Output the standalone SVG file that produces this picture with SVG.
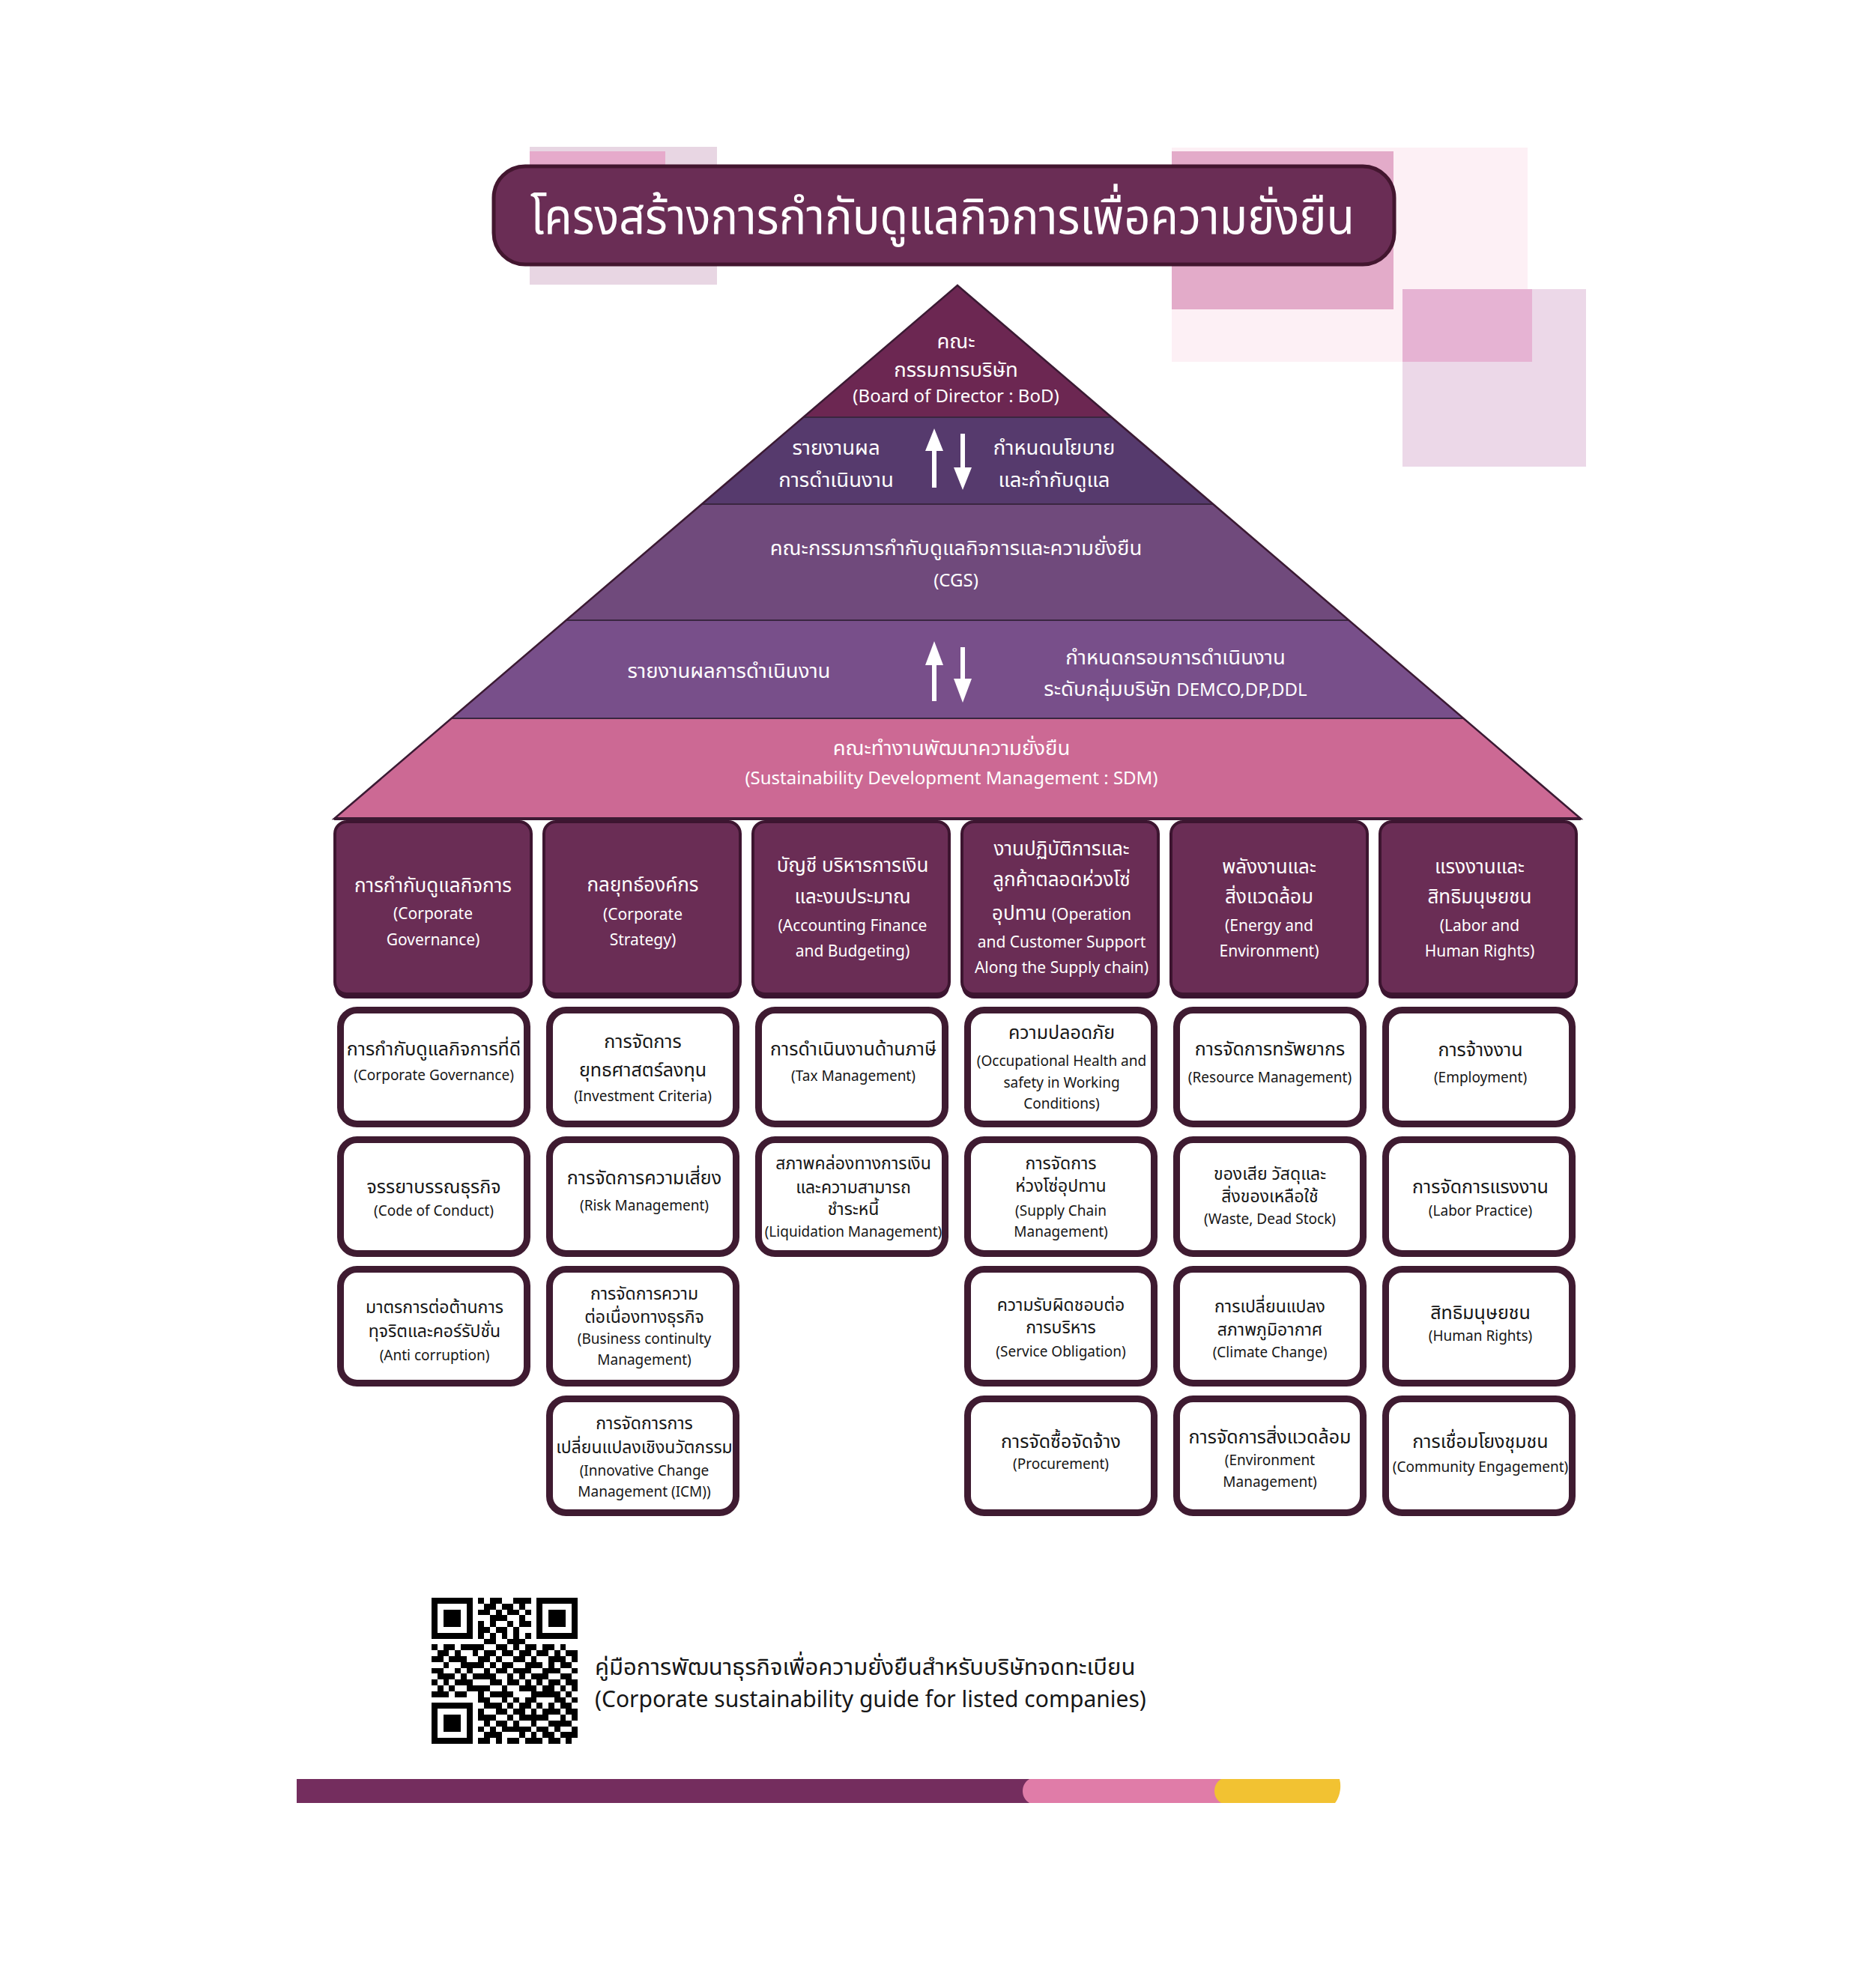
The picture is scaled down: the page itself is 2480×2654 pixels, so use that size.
<svg xmlns="http://www.w3.org/2000/svg" width="2480" height="2654" viewBox="0 0 2480 2654">
<style>
.t{font-family:"Noto Sans Thai","Noto Sans","Liberation Sans",sans-serif;text-anchor:middle}
.w{fill:#ffffff}
.k{fill:#161616}
.py{font-size:27.5px}
.pe{font-size:24px}
.hth{font-size:26px}
.hen{font-size:21px}
.sth{font-size:25px}
.stt{font-size:23px}
.sen{font-size:19px}
.hbox{fill:#6a2d55;stroke:#3d1530;stroke-width:4}
.hsh{fill:#3a1430}
.sbox{fill:#ffffff;stroke:#3f1b31;stroke-width:9}
.band{stroke:#3a2640;stroke-width:2}
.arr{fill:#ffffff}
.qr line{stroke:#000;stroke-width:1.02}
</style>
<rect width="2480" height="2654" fill="#ffffff"/>
<g id="background">
<rect x="707" y="196" width="250" height="184" fill="#e8d6e3"/>
<rect x="707" y="202" width="181" height="40" fill="#e6aacb"/>
<rect x="1564" y="197" width="475" height="286" fill="#fdf0f5"/>
<rect x="1564" y="202" width="296" height="211" fill="#e3abc9"/>
<rect x="1872" y="386" width="245" height="237" fill="#ecd8e8"/>
<rect x="1872" y="386" width="173" height="97" fill="#e6b3d3"/>
</g>
<g id="title">
<rect x="659" y="222" width="1202" height="131" rx="42" fill="#6a2d55" stroke="#43162f" stroke-width="5"/>
<text class="t w" x="1258" y="312" font-size="66" textLength="1100" lengthAdjust="spacingAndGlyphs">โครงสร้างการกำกับดูแลกิจการเพื่อความยั่งยืน</text>
</g>
<g id="pyramid">
<polygon points="1278,381 1483.7,557 1072.3,557" fill="#6c2752"/>
<polygon points="1072.3,557 1483.7,557 1619.2,673 936.8,673" fill="#563a6d"/>
<polygon points="936.8,673 1619.2,673 1800.3,828 755.7,828" fill="#704a7c"/>
<polygon points="755.7,828 1800.3,828 1953.4,959 602.6,959" fill="#784f8a"/>
<polygon points="602.6,959 1953.4,959 2110,1093 446,1093" fill="#cc6994"/>
<line class="band" x1="1072.3" y1="557" x2="1483.7" y2="557"/>
<line class="band" x1="936.8" y1="673" x2="1619.2" y2="673"/>
<line class="band" x1="755.7" y1="828" x2="1800.3" y2="828"/>
<line class="band" x1="602.6" y1="959" x2="1953.4" y2="959"/>
<polygon points="1278,381 2110,1093 446,1093" fill="none" stroke="#3b1a33" stroke-width="2.5"/>
<line x1="446" y1="1093" x2="2110" y2="1093" stroke="#3b1a33" stroke-width="4"/>
</g>
<g id="node-bod">
<text class="t w py" x="1276" y="465">คณะ</text>
<text class="t w py" x="1276" y="503">กรรมการบริษัท</text>
<text class="t w pe" x="1276" y="537">(Board of Director : BoD)</text>
</g>
<g id="label-bod-report">
<text class="t w py" x="1116" y="607">รายงานผล</text>
<text class="t w py" x="1116" y="650">การดำเนินงาน</text>
</g>
<g id="label-bod-policy">
<text class="t w py" x="1407" y="607">กำหนดนโยบาย</text>
<text class="t w py" x="1407" y="650">และกำกับดูแล</text>
</g>
<g id="node-cgs">
<text class="t w py" x="1276" y="741">คณะกรรมการกำกับดูแลกิจการและความยั่งยืน</text>
<text class="t w pe" x="1276" y="783">(CGS)</text>
</g>
<g id="label-cgs-report">
<text class="t w py" x="973" y="905">รายงานผลการดำเนินงาน</text>
</g>
<g id="label-cgs-frame">
<text class="t w py" x="1569" y="887">กำหนดกรอบการดำเนินงาน</text>
<text class="t w py" x="1569" y="929">ระดับกลุ่มบริษัท <tspan class="pe">DEMCO,DP,DDL</tspan></text>
</g>
<g id="node-sdm">
<text class="t w py" x="1270" y="1008">คณะทำงานพัฒนาความยั่งยืน</text>
<text class="t w pe" x="1270" y="1047">(Sustainability Development Management : SDM)</text>
</g>
<g id="connectors">
<path class="arr" d="M1247,572 L1259,602 L1250,602 L1250,651 L1244,651 L1244,602 L1235,602 Z"/>
<path class="arr" d="M1285,654 L1297,624 L1288,624 L1288,579 L1282,579 L1282,624 L1273,624 Z"/>
<path class="arr" d="M1247,856 L1259,888 L1250,888 L1250,936 L1244,936 L1244,888 L1235,888 Z"/>
<path class="arr" d="M1285,938 L1297,906 L1288,906 L1288,864 L1282,864 L1282,906 L1273,906 Z"/>
</g>
<g id="header-1">
<rect class="hsh" x="447" y="1103" width="262" height="230" rx="16"/>
<rect class="hbox" x="447" y="1097" width="262" height="230" rx="16"/>
<text class="t w hth" x="578" y="1191">การกำกับดูแลกิจการ</text>
<text class="t w hen" x="578" y="1227">(Corporate</text>
<text class="t w hen" x="578" y="1262">Governance)</text>
</g>
<g id="header-2">
<rect class="hsh" x="726" y="1103" width="262" height="230" rx="16"/>
<rect class="hbox" x="726" y="1097" width="262" height="230" rx="16"/>
<text class="t w hth" x="858" y="1190">กลยุทธ์องค์กร</text>
<text class="t w hen" x="858" y="1228">(Corporate</text>
<text class="t w hen" x="858" y="1262">Strategy)</text>
</g>
<g id="header-3">
<rect class="hsh" x="1005" y="1103" width="262" height="230" rx="16"/>
<rect class="hbox" x="1005" y="1097" width="262" height="230" rx="16"/>
<text class="t w hth" x="1138" y="1164">บัญชี บริหารการเงิน</text>
<text class="t w hth" x="1138" y="1206">และงบประมาณ</text>
<text class="t w hen" x="1138" y="1243">(Accounting Finance</text>
<text class="t w hen" x="1138" y="1277">and Budgeting)</text>
</g>
<g id="header-4">
<rect class="hsh" x="1284" y="1103" width="262" height="230" rx="16"/>
<rect class="hbox" x="1284" y="1097" width="262" height="230" rx="16"/>
<text class="t w hth" x="1417" y="1142">งานปฏิบัติการและ</text>
<text class="t w hth" x="1417" y="1183">ลูกค้าตลอดห่วงโซ่</text>
<text class="t w hth" x="1417" y="1228">อุปทาน <tspan class="hen">(Operation</tspan></text>
<text class="t w hen" x="1417" y="1265">and Customer Support</text>
<text class="t w hen" x="1417" y="1299">Along the Supply chain)</text>
</g>
<g id="header-5">
<rect class="hsh" x="1563" y="1103" width="262" height="230" rx="16"/>
<rect class="hbox" x="1563" y="1097" width="262" height="230" rx="16"/>
<text class="t w hth" x="1694" y="1166">พลังงานและ</text>
<text class="t w hth" x="1694" y="1206">สิ่งแวดล้อม</text>
<text class="t w hen" x="1694" y="1243">(Energy and</text>
<text class="t w hen" x="1694" y="1277">Environment)</text>
</g>
<g id="header-6">
<rect class="hsh" x="1842" y="1103" width="262" height="230" rx="16"/>
<rect class="hbox" x="1842" y="1097" width="262" height="230" rx="16"/>
<text class="t w hth" x="1975" y="1166">แรงงานและ</text>
<text class="t w hth" x="1975" y="1206">สิทธิมนุษยชน</text>
<text class="t w hen" x="1975" y="1243">(Labor and</text>
<text class="t w hen" x="1975" y="1277">Human Rights)</text>
</g>
<g id="item-1-1">
<rect class="sbox" x="454.5" y="1348.5" width="249" height="152" rx="22"/>
<text class="t k sth" x="579" y="1409">การกำกับดูแลกิจการที่ดี</text>
<text class="t k sen" x="579" y="1442">(Corporate Governance)</text>
</g>
<g id="item-1-2">
<rect class="sbox" x="454.5" y="1521.5" width="249" height="152" rx="22"/>
<text class="t k sth" x="579" y="1593">จรรยาบรรณธุรกิจ</text>
<text class="t k sen" x="579" y="1623">(Code of Conduct)</text>
</g>
<g id="item-1-3">
<rect class="sbox" x="454.5" y="1694.5" width="249" height="152" rx="22"/>
<text class="t k stt" x="580" y="1753">มาตรการต่อต้านการ</text>
<text class="t k stt" x="580" y="1785">ทุจริตและคอร์รัปชั่น</text>
<text class="t k sen" x="580" y="1816">(Anti corruption)</text>
</g>
<g id="item-2-1">
<rect class="sbox" x="733.5" y="1348.5" width="249" height="152" rx="22"/>
<text class="t k sth" x="858" y="1399">การจัดการ</text>
<text class="t k sth" x="858" y="1437">ยุทธศาสตร์ลงทุน</text>
<text class="t k sen" x="858" y="1470">(Investment Criteria)</text>
</g>
<g id="item-2-2">
<rect class="sbox" x="733.5" y="1521.5" width="249" height="152" rx="22"/>
<text class="t k sth" x="860" y="1581">การจัดการความเสี่ยง</text>
<text class="t k sen" x="860" y="1616">(Risk Management)</text>
</g>
<g id="item-2-3">
<rect class="sbox" x="733.5" y="1694.5" width="249" height="152" rx="22"/>
<text class="t k stt" x="860" y="1735">การจัดการความ</text>
<text class="t k stt" x="860" y="1766">ต่อเนื่องทางธุรกิจ</text>
<text class="t k sen" x="860" y="1794">(Business continulty</text>
<text class="t k sen" x="860" y="1822">Management)</text>
</g>
<g id="item-2-4">
<rect class="sbox" x="733.5" y="1867.5" width="249" height="152" rx="22"/>
<text class="t k stt" x="860" y="1908">การจัดการการ</text>
<text class="t k stt" x="860" y="1940">เปลี่ยนแปลงเชิงนวัตกรรม</text>
<text class="t k sen" x="860" y="1970">(Innovative Change</text>
<text class="t k sen" x="860" y="1998">Management (ICM))</text>
</g>
<g id="item-3-1">
<rect class="sbox" x="1012.5" y="1348.5" width="249" height="152" rx="22"/>
<text class="t k sth" x="1139" y="1409">การดำเนินงานด้านภาษี</text>
<text class="t k sen" x="1139" y="1443">(Tax  Management)</text>
</g>
<g id="item-3-2">
<rect class="sbox" x="1012.5" y="1521.5" width="249" height="152" rx="22"/>
<text class="t k stt" x="1139" y="1561">สภาพคล่องทางการเงิน</text>
<text class="t k stt" x="1139" y="1593">และความสามารถ</text>
<text class="t k stt" x="1139" y="1622">ชำระหนี้</text>
<text class="t k sen" x="1139" y="1651">(Liquidation Management)</text>
</g>
<g id="item-4-1">
<rect class="sbox" x="1291.5" y="1348.5" width="249" height="152" rx="22"/>
<text class="t k sth" x="1417" y="1387">ความปลอดภัย</text>
<text class="t k sen" x="1417" y="1423">(Occupational Health and</text>
<text class="t k sen" x="1417" y="1452">safety in Working</text>
<text class="t k sen" x="1417" y="1480">Conditions)</text>
</g>
<g id="item-4-2">
<rect class="sbox" x="1291.5" y="1521.5" width="249" height="152" rx="22"/>
<text class="t k stt" x="1416" y="1561">การจัดการ</text>
<text class="t k stt" x="1416" y="1591">ห่วงโซ่อุปทาน</text>
<text class="t k sen" x="1416" y="1623">(Supply Chain</text>
<text class="t k sen" x="1416" y="1651">Management)</text>
</g>
<g id="item-4-3">
<rect class="sbox" x="1291.5" y="1694.5" width="249" height="152" rx="22"/>
<text class="t k stt" x="1416" y="1750">ความรับผิดชอบต่อ</text>
<text class="t k stt" x="1416" y="1780">การบริหาร</text>
<text class="t k sen" x="1416" y="1811">(Service Obligation)</text>
</g>
<g id="item-4-4">
<rect class="sbox" x="1291.5" y="1867.5" width="249" height="152" rx="22"/>
<text class="t k sth" x="1416" y="1933">การจัดซื้อจัดจ้าง</text>
<text class="t k sen" x="1416" y="1961">(Procurement)</text>
</g>
<g id="item-5-1">
<rect class="sbox" x="1570.5" y="1348.5" width="249" height="152" rx="22"/>
<text class="t k sth" x="1695" y="1409">การจัดการทรัพยากร</text>
<text class="t k sen" x="1695" y="1445">(Resource Management)</text>
</g>
<g id="item-5-2">
<rect class="sbox" x="1570.5" y="1521.5" width="249" height="152" rx="22"/>
<text class="t k stt" x="1695" y="1575">ของเสีย วัสดุและ</text>
<text class="t k stt" x="1695" y="1605">สิ่งของเหลือใช้</text>
<text class="t k sen" x="1695" y="1634">(Waste, Dead Stock)</text>
</g>
<g id="item-5-3">
<rect class="sbox" x="1570.5" y="1694.5" width="249" height="152" rx="22"/>
<text class="t k stt" x="1695" y="1752">การเปลี่ยนแปลง</text>
<text class="t k stt" x="1695" y="1783">สภาพภูมิอากาศ</text>
<text class="t k sen" x="1695" y="1812">(Climate Change)</text>
</g>
<g id="item-5-4">
<rect class="sbox" x="1570.5" y="1867.5" width="249" height="152" rx="22"/>
<text class="t k sth" x="1695" y="1927">การจัดการสิ่งแวดล้อม</text>
<text class="t k sen" x="1695" y="1956">(Environment</text>
<text class="t k sen" x="1695" y="1985">Management)</text>
</g>
<g id="item-6-1">
<rect class="sbox" x="1849.5" y="1348.5" width="249" height="152" rx="22"/>
<text class="t k sth" x="1976" y="1410">การจ้างงาน</text>
<text class="t k sen" x="1976" y="1445">(Employment)</text>
</g>
<g id="item-6-2">
<rect class="sbox" x="1849.5" y="1521.5" width="249" height="152" rx="22"/>
<text class="t k sth" x="1976" y="1593">การจัดการแรงงาน</text>
<text class="t k sen" x="1976" y="1623">(Labor Practice)</text>
</g>
<g id="item-6-3">
<rect class="sbox" x="1849.5" y="1694.5" width="249" height="152" rx="22"/>
<text class="t k sth" x="1976" y="1761">สิทธิมนุษยชน</text>
<text class="t k sen" x="1976" y="1790">(Human Rights)</text>
</g>
<g id="item-6-4">
<rect class="sbox" x="1849.5" y="1867.5" width="249" height="152" rx="22"/>
<text class="t k sth" x="1976" y="1933">การเชื่อมโยงชุมชน</text>
<text class="t k sen" x="1976" y="1965">(Community Engagement)</text>
</g>
<g id="qr" class="qr" transform="translate(576,2133) scale(7.8)" shape-rendering="crispEdges">
<line x1="0" y1="0.5" x2="25" y2="0.5" stroke-dasharray="7 1 1 1 2 2 3 1 7 100"/>
<line x1="0" y1="1.5" x2="25" y2="1.5" stroke-dasharray="1 5 1 2 2 1 2 1 1 2 1 5 1 100"/>
<line x1="0" y1="2.5" x2="25" y2="2.5" stroke-dasharray="1 1 3 1 1 1 2 1 1 1 2 1 1 1 1 1 3 1 1 100"/>
<line x1="0" y1="3.5" x2="25" y2="3.5" stroke-dasharray="1 1 3 1 1 3 3 2 1 2 1 1 3 1 1 100"/>
<line x1="0" y1="4.5" x2="25" y2="4.5" stroke-dasharray="1 1 3 1 1 1 1 1 1 2 1 1 2 1 1 1 3 1 1 100"/>
<line x1="0" y1="5.5" x2="25" y2="5.5" stroke-dasharray="1 5 1 1 2 1 2 1 1 3 1 5 1 100"/>
<line x1="0" y1="6.5" x2="25" y2="6.5" stroke-dasharray="7 1 1 1 1 1 1 1 1 1 1 1 7 100"/>
<line x1="0" y1="7.5" x2="25" y2="7.5" stroke-dasharray="0 9 2 2 3 9"/>
<line x1="0" y1="8.5" x2="25" y2="8.5" stroke-dasharray="1 1 2 1 4 2 2 1 1 1 2 1 2 1 1 2"/>
<line x1="0" y1="9.5" x2="25" y2="9.5" stroke-dasharray="0 1 2 1 1 2 1 1 2 1 2 1 2 1 2 1 1 1 2 100"/>
<line x1="0" y1="10.5" x2="25" y2="10.5" stroke-dasharray="2 1 3 2 2 1 1 2 2 1 1 2 3 1 1 100"/>
<line x1="0" y1="11.5" x2="25" y2="11.5" stroke-dasharray="0 2 1 2 4 1 1 1 2 2 3 1 1 1 2 1"/>
<line x1="0" y1="12.5" x2="25" y2="12.5" stroke-dasharray="2 2 1 1 1 2 1 1 2 1 3 2 3 2 1 100"/>
<line x1="0" y1="13.5" x2="25" y2="13.5" stroke-dasharray="0 1 3 1 1 1 4 2 1 1 1 1 3 2 2 1"/>
<line x1="0" y1="14.5" x2="25" y2="14.5" stroke-dasharray="1 1 1 1 3 3 2 1 2 1 1 1 1 1 2 1 2 100"/>
<line x1="0" y1="15.5" x2="25" y2="15.5" stroke-dasharray="0 1 1 1 1 2 4 2 1 2 3 1 2 1 1 1 1 100"/>
<line x1="0" y1="16.5" x2="25" y2="16.5" stroke-dasharray="3 1 2 2 1 1 4 3 5 1 1 1"/>
<line x1="0" y1="17.5" x2="25" y2="17.5" stroke-dasharray="0 8 2 2 1 1 1 1 2 3 2 1 1 100"/>
<line x1="0" y1="18.5" x2="25" y2="18.5" stroke-dasharray="7 2 3 1 1 1 2 1 1 1 1 1 2 1"/>
<line x1="0" y1="19.5" x2="25" y2="19.5" stroke-dasharray="1 5 1 1 1 2 2 1 2 1 1 1 3 1 2 100"/>
<line x1="0" y1="20.5" x2="25" y2="20.5" stroke-dasharray="1 1 3 1 1 1 3 2 1 1 5 2 1 1 1 100"/>
<line x1="0" y1="21.5" x2="25" y2="21.5" stroke-dasharray="1 1 3 1 1 2 1 1 2 1 1 2 1 2 4 1"/>
<line x1="0" y1="22.5" x2="25" y2="22.5" stroke-dasharray="1 1 3 1 1 1 1 1 1 1 5 1 2 1 1 2 1 100"/>
<line x1="0" y1="23.5" x2="25" y2="23.5" stroke-dasharray="1 5 1 2 3 3 1 1 1 1 2 1 3 100"/>
<line x1="0" y1="24.5" x2="25" y2="24.5" stroke-dasharray="7 1 2 1 1 1 2 1 3 1 2 1 1 1"/>
</g>
<g id="footer-text">
<text class="t k" x="794" y="2236" font-size="31" style="text-anchor:start">คู่มือการพัฒนาธุรกิจเพื่อความยั่งยืนสำหรับบริษัทจดทะเบียน</text>
<text class="t k" x="794" y="2279" font-size="30" style="text-anchor:start">(Corporate sustainability guide for listed companies)</text>
</g>
<g id="footer-bar">
<rect x="396" y="2375" width="1000" height="32" fill="#742d5e"/>
<path d="M1374,2375 H1640 V2407 H1374 C1362,2400 1362,2382 1374,2375 Z" fill="#e07ca8"/>
<path d="M1630,2375 H1788 C1791,2386 1788,2399 1782,2407 H1630 C1618,2400 1618,2382 1630,2375 Z" fill="#f2c232"/>
</g>
</svg>
